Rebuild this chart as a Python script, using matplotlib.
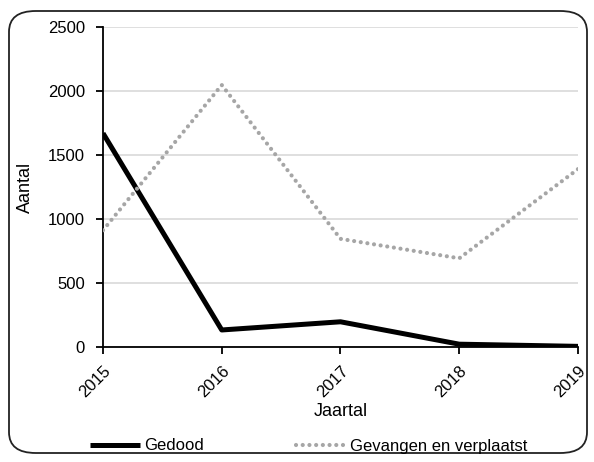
import matplotlib
matplotlib.use("Agg")
import matplotlib.pyplot as plt
from matplotlib.patches import FancyBboxPatch

plt.rcParams['font.family'] = ['Liberation Sans', 'DejaVu Sans']

years = ["2015", "2016", "2017", "2018", "2019"]
gedood = [1670, 133, 197, 22, 5]
gevangen = [912, 2047, 845, 693, 1390]
yticks = [0, 500, 1000, 1500, 2000, 2500]

W, H = 594, 462
fig = plt.figure(figsize=(W/100, H/100), dpi=100)
ax = fig.add_axes([103/W, 1-347/H, (578-103)/W, (347-27)/H])

x = list(range(len(years)))
ax.plot(x, gedood, color='black', lw=3.6, solid_capstyle='butt', label='Gedood', zorder=3)
ax.plot(x, gevangen, color='#a6a6a6', lw=3.0, linestyle=(0, (0.01, 1.6)), dash_capstyle='round',
        label='Gevangen en verplaatst', zorder=3)

ax.set_xlim(0, len(years)-1)
ax.set_ylim(0, 2500)
ax.set_yticks(yticks)
ax.set_yticklabels([str(v) for v in yticks], fontsize=12)
ax.set_xticks(x)
ax.set_xticklabels(years, rotation=45, ha='right', rotation_mode='anchor', fontsize=12)
ax.grid(axis='y', color='#d9d9d9', lw=1.2)
ax.set_axisbelow(True)
for s in ['top', 'right']:
    ax.spines[s].set_visible(False)
for s in ['left', 'bottom']:
    ax.spines[s].set_linewidth(1.3)
ax.tick_params(direction='out', length=5, width=1.3, colors='black', pad=3)
ax.tick_params(axis='y', pad=8)
ax.tick_params(axis='x', pad=7)

fig.text(25/W, 1-187/H, 'Aantal', rotation=90, ha='center', va='center', fontsize=13)
fig.text(341/W, 1-411/H, 'Jaartal', ha='center', va='center', fontsize=13)

leg = fig.legend(loc='center', bbox_to_anchor=(0.5 + 12/W, 1-446/H), ncol=2, frameon=False,
                 fontsize=12, handlelength=3.0, handletextpad=0.25, columnspacing=5.5)

border = FancyBboxPatch((9/W, 1-453/H), (587-9)/W, (453-11)/H,
                        boxstyle="round,pad=0,rounding_size=0.045",
                        transform=fig.transFigure, fill=False, ec='#222222', lw=1.3)
fig.patches.append(border)

fig.savefig('out.png', dpi=100)
